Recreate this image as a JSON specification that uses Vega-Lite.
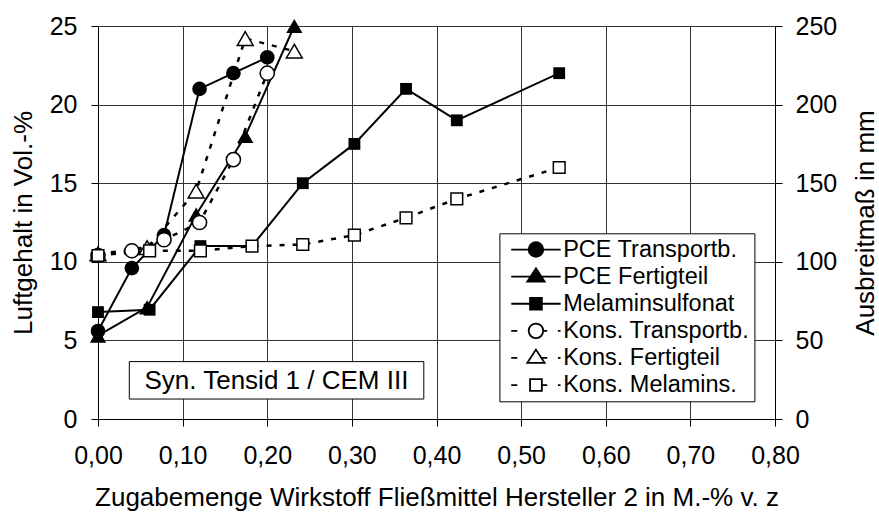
{
  "$schema": "https://vega.github.io/schema/vega-lite/v6.json",
  "width": 677,
  "height": 393,
  "autosize": {"type": "none"},
  "padding": {"left": 98, "top": 26, "right": 104, "bottom": 95},
  "background": "white",
  "config": {
    "font": "Liberation Sans",
    "view": {"stroke": null},
    "legend": {"symbolBaseStrokeColor": "black", "symbolBaseFillColor": "black"},
    "axis": {
      "labelColor": "black",
      "titleColor": "black",
      "domainColor": "black",
      "domainWidth": 1,
      "tickColor": "black",
      "tickWidth": 1,
      "labelFontSize": 25,
      "titleFontSize": 26,
      "titleFontWeight": "normal",
      "tickSize": 7,
      "gridColor": "#333333",
      "gridWidth": 1,
      "gridOpacity": 1
    }
  },
  "datasets": {
    "messwerte": [
      {"s": "PCE Transportb.", "x": 0.0, "v": 5.6},
      {"s": "PCE Transportb.", "x": 0.04, "v": 9.6},
      {"s": "PCE Transportb.", "x": 0.078, "v": 11.7},
      {"s": "PCE Transportb.", "x": 0.12, "v": 21.0},
      {"s": "PCE Transportb.", "x": 0.16, "v": 22.0},
      {"s": "PCE Transportb.", "x": 0.2, "v": 23.0},
      {"s": "PCE Fertigteil", "x": 0.0, "v": 5.3},
      {"s": "PCE Fertigteil", "x": 0.058, "v": 7.1},
      {"s": "PCE Fertigteil", "x": 0.116, "v": 13.0},
      {"s": "PCE Fertigteil", "x": 0.174, "v": 18.0},
      {"s": "PCE Fertigteil", "x": 0.232, "v": 25.0},
      {"s": "Melaminsulfonat", "x": 0.0, "v": 6.8},
      {"s": "Melaminsulfonat", "x": 0.061, "v": 6.95},
      {"s": "Melaminsulfonat", "x": 0.121, "v": 11.0},
      {"s": "Melaminsulfonat", "x": 0.182, "v": 11.0},
      {"s": "Melaminsulfonat", "x": 0.242, "v": 15.0},
      {"s": "Melaminsulfonat", "x": 0.303, "v": 17.5},
      {"s": "Melaminsulfonat", "x": 0.364, "v": 21.0},
      {"s": "Melaminsulfonat", "x": 0.424, "v": 19.0},
      {"s": "Melaminsulfonat", "x": 0.545, "v": 22.0},
      {"s": "Kons. Transportb.", "x": 0.0, "v": 104},
      {"s": "Kons. Transportb.", "x": 0.04, "v": 107},
      {"s": "Kons. Transportb.", "x": 0.078, "v": 114},
      {"s": "Kons. Transportb.", "x": 0.12, "v": 125},
      {"s": "Kons. Transportb.", "x": 0.16, "v": 165},
      {"s": "Kons. Transportb.", "x": 0.2, "v": 220},
      {"s": "Kons. Fertigteil", "x": 0.0, "v": 105},
      {"s": "Kons. Fertigteil", "x": 0.058, "v": 109},
      {"s": "Kons. Fertigteil", "x": 0.116, "v": 145},
      {"s": "Kons. Fertigteil", "x": 0.174, "v": 242},
      {"s": "Kons. Fertigteil", "x": 0.232, "v": 234},
      {"s": "Kons. Melamins.", "x": 0.0, "v": 104},
      {"s": "Kons. Melamins.", "x": 0.061, "v": 107},
      {"s": "Kons. Melamins.", "x": 0.121, "v": 107},
      {"s": "Kons. Melamins.", "x": 0.182, "v": 110},
      {"s": "Kons. Melamins.", "x": 0.242, "v": 111},
      {"s": "Kons. Melamins.", "x": 0.303, "v": 117},
      {"s": "Kons. Melamins.", "x": 0.364, "v": 128},
      {"s": "Kons. Melamins.", "x": 0.424, "v": 140},
      {"s": "Kons. Melamins.", "x": 0.545, "v": 160}
    ],
    "notiz": [{"label": "Syn. Tensid 1 / CEM III"}]
  },
  "layer": [
    {
      "data": {"name": "messwerte"},
      "transform": [{"filter": {"field": "s", "oneOf": ["PCE Transportb.", "PCE Fertigteil", "Melaminsulfonat"]}}],
      "encoding": {
        "x": {
          "field": "x",
          "type": "quantitative",
          "scale": {"domain": [0, 0.8], "nice": false, "zero": false},
          "axis": {
            "values": [0, 0.1, 0.2, 0.3, 0.4, 0.5, 0.6, 0.7, 0.8],
            "labelExpr": "replace(format(datum.value, '.2f'), '.', ',')",
            "grid": true,
            "labelPadding": 17,
            "labelFlush": false,
            "title": "Zugabemenge Wirkstoff Fließmittel Hersteller 2 in M.-% v. z",
            "titlePadding": 16
          }
        },
        "y": {
          "field": "v",
          "type": "quantitative",
          "scale": {"domain": [0, 25], "nice": false},
          "axis": {
            "values": [0, 5, 10, 15, 20, 25],
            "grid": true,
            "labelPadding": 14,
            "title": "Luftgehalt in Vol.-%",
            "titlePadding": 13
          }
        }
      },
      "layer": [
        {
          "mark": {"type": "line", "color": "black", "strokeWidth": 2},
          "encoding": {"detail": {"field": "s", "type": "nominal"}}
        },
        {
          "transform": [{"filter": {"field": "s", "equal": "PCE Transportb."}}],
          "mark": {"type": "point", "filled": true, "color": "black", "opacity": 1, "shape": "circle", "size": 215}
        },
        {
          "transform": [{"filter": {"field": "s", "equal": "PCE Fertigteil"}}],
          "mark": {"type": "point", "filled": true, "color": "black", "opacity": 1, "shape": "triangle-up", "size": 265}
        },
        {
          "transform": [{"filter": {"field": "s", "equal": "Melaminsulfonat"}}],
          "mark": {"type": "point", "filled": true, "color": "black", "opacity": 1, "shape": "square", "size": 140}
        }
      ]
    },
    {
      "data": {"name": "messwerte"},
      "transform": [{"filter": {"field": "s", "oneOf": ["Kons. Transportb.", "Kons. Fertigteil", "Kons. Melamins."]}}],
      "encoding": {
        "x": {"field": "x", "type": "quantitative"},
        "y": {
          "field": "v",
          "type": "quantitative",
          "scale": {"domain": [0, 250], "nice": false},
          "axis": {
            "orient": "right",
            "values": [0, 50, 100, 150, 200, 250],
            "grid": false,
            "labelPadding": 13,
            "title": "Ausbreitmaß in mm",
            "titleAngle": 270,
            "titleBaseline": "top",
            "titlePadding": 16
          }
        }
      },
      "layer": [
        {
          "mark": {"type": "line", "color": "black", "strokeWidth": 2.5, "strokeDash": [5, 8]},
          "encoding": {"detail": {"field": "s", "type": "nominal"}}
        },
        {
          "transform": [{"filter": {"field": "s", "equal": "Kons. Transportb."}}],
          "mark": {"type": "point", "filled": true, "fill": "white", "stroke": "black", "strokeWidth": 1.5, "opacity": 1, "shape": "circle", "size": 200}
        },
        {
          "transform": [{"filter": {"field": "s", "equal": "Kons. Fertigteil"}}],
          "mark": {"type": "point", "filled": true, "fill": "white", "stroke": "black", "strokeWidth": 1.5, "opacity": 1, "shape": "triangle-up", "size": 250}
        },
        {
          "transform": [{"filter": {"field": "s", "equal": "Kons. Melamins."}}],
          "mark": {"type": "point", "filled": true, "fill": "white", "stroke": "black", "strokeWidth": 1.5, "opacity": 1, "shape": "square", "size": 137}
        }
      ]
    },
    {
      "data": {"name": "messwerte"},
      "mark": {"type": "point", "filled": true, "opacity": 0, "stroke": "black", "strokeWidth": 1.8},
      "encoding": {
        "x": {"field": "x", "type": "quantitative"},
        "y": {"field": "v", "type": "quantitative", "axis": null},
        "shape": {
          "field": "s",
          "type": "nominal",
          "scale": {
            "domain": ["PCE Transportb.", "PCE Fertigteil", "Melaminsulfonat", "Kons. Transportb.", "Kons. Fertigteil", "Kons. Melamins."],
            "range": [
              "M-3.53,0H3.53M1.04,0C1.04,0.574,0.574,1.04,0,1.04C-0.574,1.04,-1.04,0.574,-1.04,0C-1.04,-0.574,-0.574,-1.04,0,-1.04C0.574,-1.04,1.04,-0.574,1.04,0Z",
              "M-3.53,0H3.53M0,-1.19L1.24,0.71L-1.24,0.71Z",
              "M-3.53,0H3.53M-0.84,-0.84H0.84V0.84H-0.84Z",
              "M-3.53,0H-2.67M1.04,0H1.61M3.14,0H3.51M1.04,0C1.04,0.574,0.574,1.04,0,1.04C-0.574,1.04,-1.04,0.574,-1.04,0C-1.04,-0.574,-0.574,-1.04,0,-1.04C0.574,-1.04,1.04,-0.574,1.04,0Z",
              "M-3.53,0H-2.67M0.78,0H1.61M3.14,0H3.51M0,-1.19L1.24,0.71L-1.24,0.71Z",
              "M-3.53,0H-2.67M0.84,0H1.61M3.14,0H3.51M-0.84,-0.84H0.84V0.84H-0.84Z"
            ]
          },
          "legend": {
            "title": null,
            "orient": "none",
            "legendX": 401.4,
            "legendY": 207.3,
            "padding": 4.5,
            "rowPadding": 2.1,
            "strokeColor": "black",
            "fillColor": "white",
            "cornerRadius": 0,
            "symbolSize": 196,
            "symbolStrokeWidth": 1.8,
            "symbolOpacity": 1,
            "symbolOffset": 20.3,
            "labelOffset": 15.5,
            "labelFontSize": 23.5,
            "labelColor": "black",
            "labelLimit": 400,
            "labelBaseline": "middle"
          }
        },
        "fill": {
          "field": "s",
          "type": "nominal",
          "scale": {
            "domain": ["PCE Transportb.", "PCE Fertigteil", "Melaminsulfonat", "Kons. Transportb.", "Kons. Fertigteil", "Kons. Melamins."],
            "range": ["black", "black", "black", "white", "white", "white"]
          }
        }
      }
    },
    {
      "data": {"name": "notiz"},
      "layer": [
        {
          "mark": {"type": "rect", "fill": "white", "stroke": "black", "strokeWidth": 1},
          "encoding": {
            "x": {"datum": 0.037, "type": "quantitative"},
            "x2": {"datum": 0.385},
            "y": {"datum": 1.27, "type": "quantitative", "scale": {"domain": [0, 25], "nice": false}, "axis": null},
            "y2": {"datum": 3.65}
          }
        },
        {
          "mark": {"type": "text", "fontSize": 26, "color": "black", "align": "center", "baseline": "alphabetic"},
          "encoding": {
            "x": {"datum": 0.2108, "type": "quantitative"},
            "y": {"datum": 1.91, "type": "quantitative"},
            "text": {"field": "label", "type": "nominal"}
          }
        }
      ]
    }
  ],
  "resolve": {"scale": {"y": "independent"}}
}
